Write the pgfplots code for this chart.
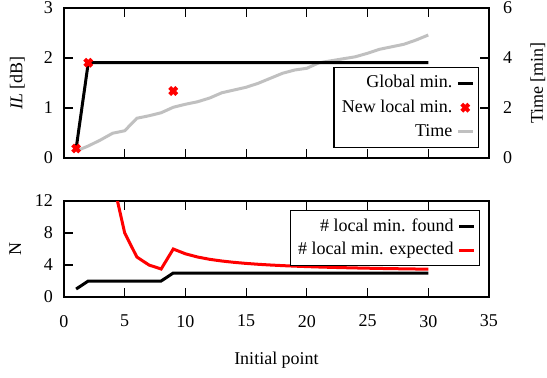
\documentclass[border=0pt]{standalone}
\usepackage{pgfplots}
\pgfplotsset{compat=1.18}
\usepackage{fontspec}
\setmainfont{Liberation Serif}
\definecolor{timegray}{RGB}{192,192,192}
\pgfplotsset{
  common/.style={
    width=212.5pt, scale only axis,
    xmin=0, xmax=35,
    xtick={0,5,...,35},
    tick align=inside,
    major tick length=4.5pt,
    axis line style={line width=0.6pt},
    every tick/.style={line width=0.6pt, black},
    font=\fontsize{9}{10.8}\selectfont,
    tick label style={font=\rmfamily\fontsize{9}{10.8}\selectfont},
    /pgf/number format/assume math mode=true,
    legend image code/.code={\draw[mark repeat=2,mark phase=2,#1] plot coordinates {(0cm,0cm) (0.13cm,0cm) (0.26cm,0cm)};},
    legend plot pos=right,
    legend cell align=right,
  },
}
\begin{document}
\begin{tikzpicture}
\path[use as bounding box] (0,0) rectangle (273.5pt,-188.5pt);
% top: time (right axis)
\begin{axis}[common,
  at={(32pt,-79pt)}, anchor=south west, height=75pt,
  ymin=0, ymax=6, ytick={0,2,4,6}, yticklabels={0,2,4,6}, ytick pos=right,
  xticklabels={}, 
  yticklabel style={xshift=3.5pt},
  ylabel={Time [min]},
  ylabel style={at={(axis description cs:1.115,0.5)}, anchor=center, rotate=0},
]
\addplot[timegray, line width=1.5pt] coordinates {
(1,0.28) (2,0.48) (3,0.72) (4,0.99) (5,1.09) (6,1.59) (7,1.69) (8,1.81) (9,2.03) (10,2.15)
(11,2.25) (12,2.40) (13,2.61) (14,2.72) (15,2.83) (16,2.99) (17,3.19) (18,3.39) (19,3.52) (20,3.59)
(21,3.81) (22,3.89) (23,3.97) (24,4.05) (25,4.19) (26,4.35) (27,4.45) (28,4.55) (29,4.72) (30,4.92)
};
\end{axis}
% top: IL (left axis)
\begin{axis}[common,
  at={(32pt,-79pt)}, anchor=south west, height=75pt,
  ymin=0, ymax=3, ytick={0,1,2,3}, yticklabels={0,1,2,3}, ytick pos=left,
  xticklabels={},
  yticklabel style={xshift=-2pt},
  ylabel={\textit{IL} [dB]},
  ylabel style={at={(axis description cs:-0.11,0.5)}, anchor=center},
  legend style={at={(0.976,0.067)}, anchor=south east, draw=black, line width=0.6pt, fill=white,
    font=\fontsize{9}{10.8}\selectfont, row sep=0.5pt, inner sep=2pt},
]
\addplot[black, line width=1.5pt] coordinates {
(1,0.19) (2,1.906) (3,1.906) (10,1.906) (20,1.906) (30,1.906)
};
\addlegendentry{Global min.}
\addplot[only marks, red, mark=x, mark size=2.5pt, mark options={line width=2pt}] coordinates {
(1,0.19) (2,1.906) (9,1.34)
};
\addlegendentry{New local min.}
\addlegendimage{timegray, line width=1.5pt}
\addlegendentry{Time}
\end{axis}
% bottom
\begin{axis}[common,
  at={(32pt,-148.5pt)}, anchor=south west, height=48pt,
  ymin=0, ymax=12, ytick={0,4,8,12}, yticklabels={0,4,8,12}, ytick pos=left,
  xticklabels={0,5,10,15,20,25,30,35},
  yticklabel style={xshift=-2pt},
  xticklabel style={yshift=-5.5pt},
  ylabel={N},
  ylabel style={at={(axis description cs:-0.115,0.5)}, anchor=center},
  xlabel={Initial point},
  xlabel style={at={(axis description cs:0.5,-0.66)}, anchor=center},
  clip=true,
  legend style={at={(0.979,0.906)}, anchor=north east, draw=black, line width=0.6pt, fill=white,
    font=\fontsize{9}{10.8}\selectfont, row sep=0pt, inner sep=2pt},
]
\addplot[black, line width=1.5pt] coordinates {
(1,1) (2,2) (3,2) (4,2) (5,2) (6,2) (7,2) (8,2) (9,3) (10,3) (15,3) (20,3) (25,3) (30,3)
};
\addlegendentry{\# local min. found}
\addplot[red, line width=1.5pt] coordinates {
(4,14.7) (5,8) (6,5) (7,4) (8,3.5) (9,6) (10,5.4) (11,5.0) (12,4.71) (13,4.5) (14,4.333) (15,4.2)
(16,4.09) (17,4.0) (18,3.923) (19,3.857) (20,3.8) (21,3.75) (22,3.706) (23,3.667) (24,3.632)
(25,3.6) (26,3.571) (27,3.545) (28,3.522) (29,3.5) (30,3.48)
};
\addlegendentry{\# local min. expected}
\end{axis}
\end{tikzpicture}
\end{document}
